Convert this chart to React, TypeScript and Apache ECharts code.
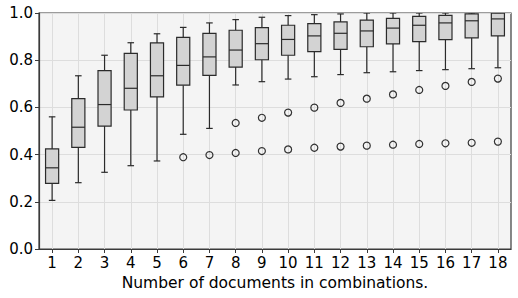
import React, { useEffect, useRef } from "react";
import * as echarts from "echarts";

const categories = ["1","2","3","4","5","6","7","8","9","10","11","12","13","14","15","16","17","18"];
const whiskerLow = [0.206,0.281,0.325,0.353,0.373,0.486,0.511,0.695,0.709,0.720,0.730,0.739,0.747,0.751,0.756,0.760,0.764,0.768];
const q1 = [0.278,0.431,0.521,0.589,0.645,0.694,0.736,0.771,0.802,0.821,0.836,0.846,0.857,0.869,0.879,0.887,0.895,0.903];
const median = [0.344,0.516,0.612,0.681,0.734,0.778,0.814,0.843,0.870,0.888,0.903,0.914,0.924,0.936,0.948,0.958,0.967,0.975];
const q3 = [0.424,0.637,0.756,0.829,0.873,0.897,0.914,0.927,0.938,0.948,0.955,0.962,0.970,0.977,0.986,0.990,0.996,0.999];
const whiskerHigh = [0.560,0.734,0.821,0.874,0.912,0.939,0.958,0.972,0.982,0.989,0.993,0.996,1.0,1.0,1.0,1.0,1.0,1.0];
// outliers: [category, value]
const outliersLow: [string, number][] = [["6",0.389],["7",0.398],["8",0.407],["9",0.415],["10",0.422],["11",0.429],["12",0.434],["13",0.438],["14",0.442],["15",0.445],["16",0.448],["17",0.450],["18",0.455]];
const outliersHigh: [string, number][] = [["8",0.534],["9",0.556],["10",0.578],["11",0.599],["12",0.619],["13",0.637],["14",0.655],["15",0.674],["16",0.691],["17",0.708],["18",0.722]];

export default function App() {
  const ref = useRef<HTMLDivElement>(null);
  useEffect(() => {
    if (!ref.current) return;
    const chart = echarts.init(ref.current, null, { renderer: "svg" });
    const boxData = categories.map((c, i) => [i, whiskerLow[i], q1[i], median[i], q3[i], whiskerHigh[i]]);
    const font = "DejaVu Sans";
    const stroke = "#2b2b2b";
    chart.setOption({
      animation: false,
      grid: {
        left: 39, right: 7, top: 13, bottom: 49,
        show: true, backgroundColor: "#f4f4f4", borderColor: "#3a3a3a", borderWidth: 1.2,
      },
      xAxis: {
        type: "category",
        data: categories,
        boundaryGap: true,
        name: "Number of documents in combinations.",
        nameLocation: "middle",
        nameGap: 24,
        nameTextStyle: { fontFamily: font, fontSize: 15.5, color: "#000" },
        axisLine: { show: true, lineStyle: { color: "#3a3a3a", width: 1.2 } },
        axisTick: { show: true, alignWithLabel: true, length: 4, lineStyle: { color: "#3a3a3a" } },
        axisLabel: { fontFamily: font, fontSize: 15, color: "#000", margin: 6, interval: 0 },
        splitLine: { show: true, alignWithLabel: true, interval: 0, lineStyle: { color: "#dddddd", width: 1 } },
      },
      yAxis: {
        type: "value",
        min: 0, max: 1, interval: 0.2,
        axisLine: { show: true, lineStyle: { color: "#3a3a3a", width: 1.2 } },
        axisTick: { show: true, length: 4, lineStyle: { color: "#3a3a3a" } },
        axisLabel: { fontFamily: font, fontSize: 15, color: "#000", margin: 6, formatter: (v: number) => v.toFixed(1) },
        splitLine: { show: true, lineStyle: { color: "#dddddd", width: 1 } },
      },
      series: [
        {
          type: "custom",
          data: boxData,
          clip: true,
          z: 3,
          renderItem: (params: any, api: any) => {
            const idx = api.value(0);
            const band = api.size([1, 0])[0];
            const bw = band * 0.5;
            const cw = band * 0.25;
            const pLow = api.coord([idx, api.value(1)]);
            const pQ1 = api.coord([idx, api.value(2)]);
            const pMed = api.coord([idx, api.value(3)]);
            const pQ3 = api.coord([idx, api.value(4)]);
            const pHigh = api.coord([idx, api.value(5)]);
            const x = pMed[0];
            const ls = { stroke, lineWidth: 1.2, fill: null };
            return {
              type: "group",
              children: [
                { type: "line", shape: { x1: x, y1: pQ1[1], x2: x, y2: pLow[1] }, style: ls },
                { type: "line", shape: { x1: x, y1: pQ3[1], x2: x, y2: pHigh[1] }, style: ls },
                { type: "line", shape: { x1: x - cw / 2, y1: pLow[1], x2: x + cw / 2, y2: pLow[1] }, style: ls },
                { type: "line", shape: { x1: x - cw / 2, y1: pHigh[1], x2: x + cw / 2, y2: pHigh[1] }, style: ls },
                { type: "rect", shape: { x: x - bw / 2, y: pQ3[1], width: bw, height: pQ1[1] - pQ3[1] }, style: { fill: "#d3d3d3", stroke, lineWidth: 1.2 } },
                { type: "line", shape: { x1: x - bw / 2, y1: pMed[1], x2: x + bw / 2, y2: pMed[1] }, style: ls },
              ],
            };
          },
        },
        {
          type: "scatter",
          data: outliersLow,
          symbol: "circle",
          symbolSize: 7,
          z: 4,
          itemStyle: { color: "rgba(0,0,0,0)", borderColor: "#000", borderWidth: 1.2 },
        },
        {
          type: "scatter",
          data: outliersHigh,
          symbol: "circle",
          symbolSize: 7,
          z: 4,
          itemStyle: { color: "rgba(0,0,0,0)", borderColor: "#000", borderWidth: 1.2 },
        },
      ],
    });
    return () => chart.dispose();
  }, []);
  return <div ref={ref} style={{ width: 518, height: 298, position: "absolute", left: 0, top: 0 }} />;
}
